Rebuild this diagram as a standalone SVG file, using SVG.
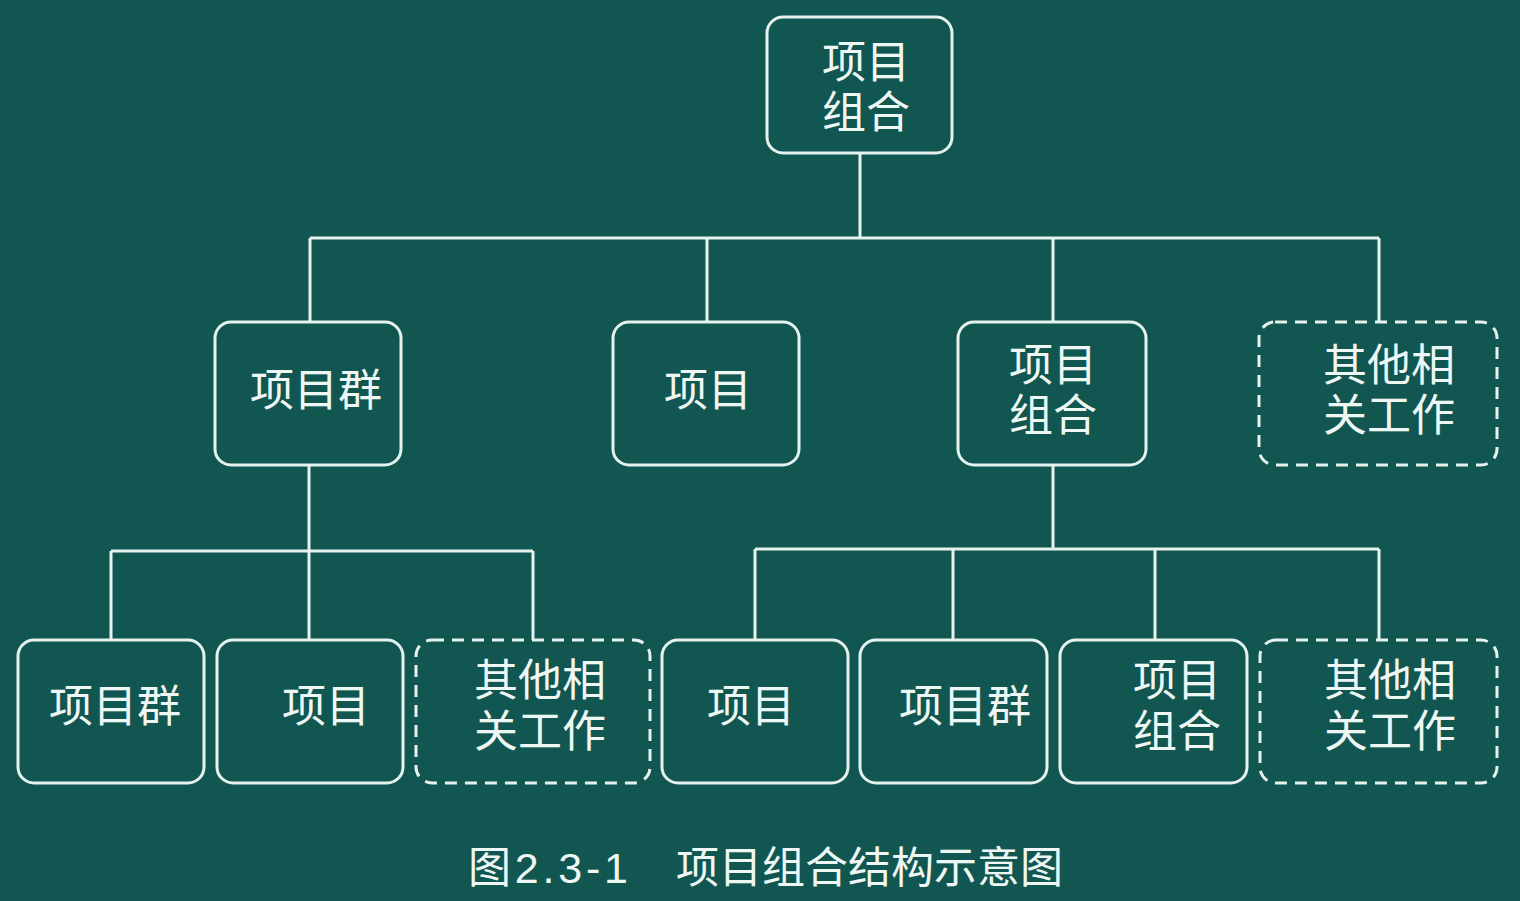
<svg xmlns="http://www.w3.org/2000/svg" width="1520" height="901" viewBox="0 0 1520 901">
<style>
.bg{fill:#115650}
.box{fill:none;stroke:#e6f2ee;stroke-width:3}
.dash{fill:none;stroke:#e6f2ee;stroke-width:3;stroke-dasharray:12 8}
.ln{fill:none;stroke:#e6f2ee;stroke-width:3}
text{font-family:"Liberation Sans","Noto Sans CJK SC",sans-serif;font-size:44px;fill:#eef7f4;text-anchor:middle}
.cap{font-size:43px;text-anchor:start}
</style>
<rect class="bg" x="0" y="0" width="1520" height="901"/>
<g id="connectors">
<path class="ln" d="M860 153V238M310 238H1379M310 238V322M707 238V322M1053 238V322M1379 238V322"/>
<path class="ln" d="M309 465V551M111 551H533M111 551V640M309 551V640M533 551V640"/>
<path class="ln" d="M1053 465V549M755 549H1379M755 549V640M953 549V640M1155 549V640M1379 549V640"/>
</g>
<g id="root"><rect class="box" x="767" y="17" width="185" height="136" rx="16"/><text x="866" y="78">项目<tspan x="866" dy="50">组合</tspan></text></g>
<g id="l2-group"><rect class="box" x="215" y="322" width="186" height="143" rx="16"/><text x="316" y="406">项目群</text></g>
<g id="l2-project"><rect class="box" x="613" y="322" width="186" height="143" rx="16"/><text x="708" y="406">项目</text></g>
<g id="l2-portfolio"><rect class="box" x="958" y="322" width="188" height="143" rx="16"/><text x="1053" y="381">项目<tspan x="1053" dy="50">组合</tspan></text></g>
<g id="l2-other"><rect class="dash" x="1259" y="322" width="238" height="143" rx="16"/><text x="1389" y="381">其他相<tspan x="1389" dy="50">关工作</tspan></text></g>
<g id="l3-group1"><rect class="box" x="18" y="640" width="186" height="143" rx="16"/><text x="115" y="722">项目群</text></g>
<g id="l3-project1"><rect class="box" x="217" y="640" width="186" height="143" rx="16"/><text x="326" y="722">项目</text></g>
<g id="l3-other1"><rect class="dash" x="416" y="640" width="234" height="143" rx="16"/><text x="540" y="696">其他相<tspan x="540" dy="51">关工作</tspan></text></g>
<g id="l3-project2"><rect class="box" x="662" y="640" width="186" height="143" rx="16"/><text x="751" y="722">项目</text></g>
<g id="l3-group2"><rect class="box" x="860" y="640" width="187" height="143" rx="16"/><text x="965" y="722">项目群</text></g>
<g id="l3-portfolio"><rect class="box" x="1060" y="640" width="187" height="143" rx="16"/><text x="1177" y="696">项目<tspan x="1177" dy="51">组合</tspan></text></g>
<g id="l3-other2"><rect class="dash" x="1260" y="640" width="237" height="143" rx="16"/><text x="1390" y="696">其他相<tspan x="1390" dy="51">关工作</tspan></text></g>
<g id="caption"><text class="cap" x="468" y="883" textLength="160" lengthAdjust="spacing">图2.3-1</text><text class="cap" x="676" y="883">项目组合结构示意图</text></g>
</svg>
